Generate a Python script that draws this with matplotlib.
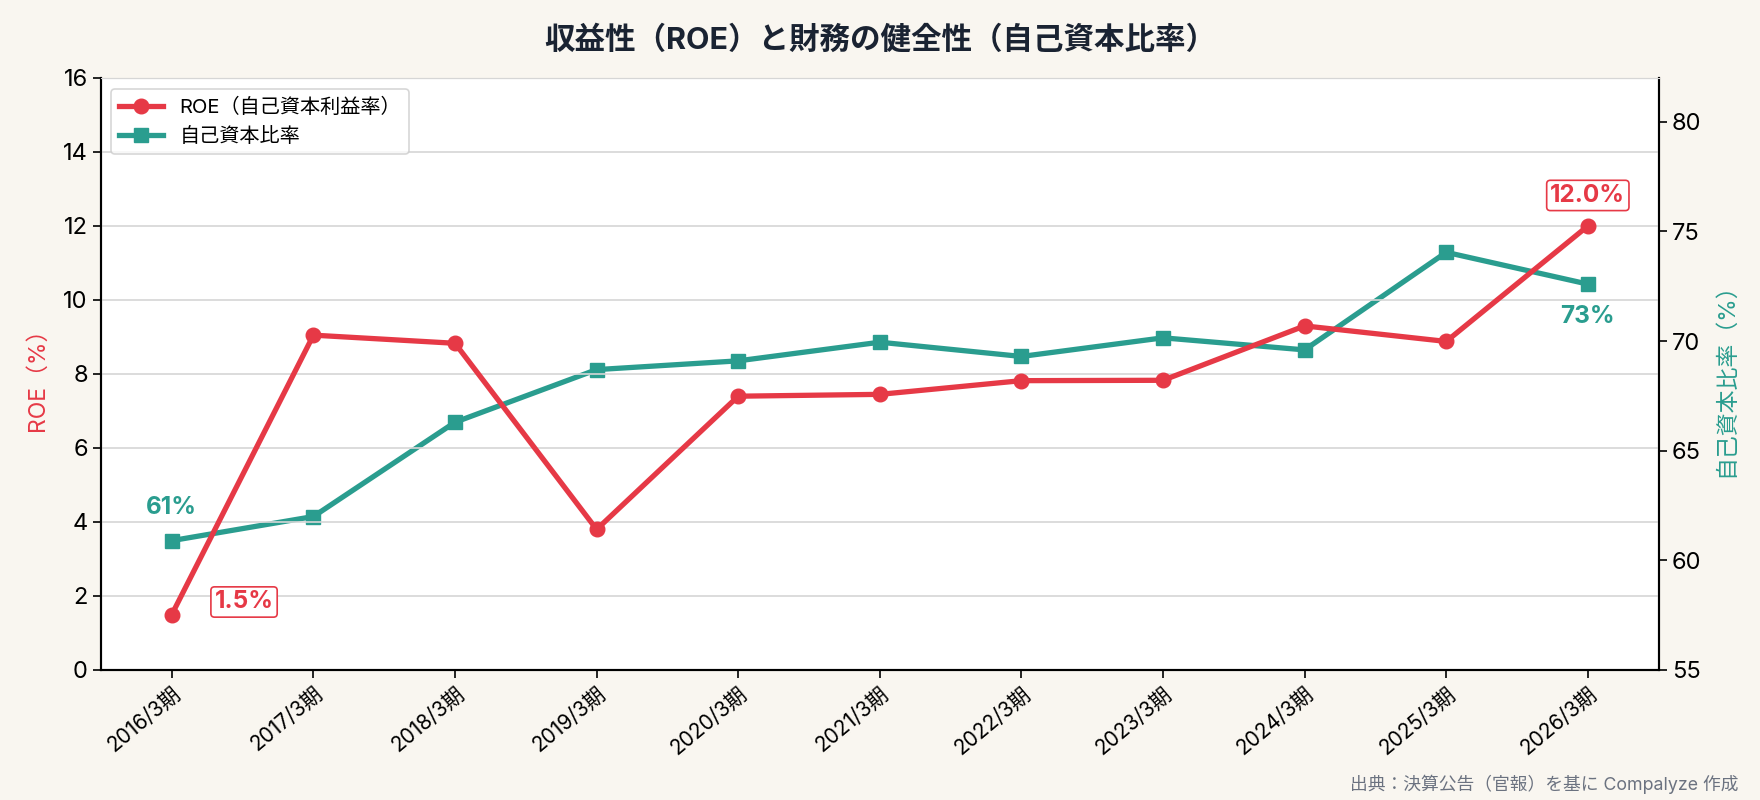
import matplotlib
matplotlib.use("Agg")
import matplotlib.pyplot as plt
from matplotlib.ticker import MultipleLocator

plt.rcParams['font.family'] = ['Inter', 'Noto Sans CJK JP', 'DejaVu Sans']

periods = ["2016/3期", "2017/3期", "2018/3期", "2019/3期", "2020/3期", "2021/3期",
           "2022/3期", "2023/3期", "2024/3期", "2025/3期", "2026/3期"]
roe = [1.5, 9.05, 8.83, 3.8, 7.4, 7.45, 7.82, 7.83, 9.3, 8.88, 12.0]
equity_ratio = [60.9, 62.0, 66.3, 68.7, 69.1, 69.95, 69.3, 70.15, 69.6, 74.05, 72.6]

RED = "#e63946"
TEAL = "#2a9d8f"
BG = "#f9f6f0"

fig = plt.figure(figsize=(17.6, 8.0), dpi=100, facecolor=BG)
ax = fig.add_axes([0.0574, 0.1625, 0.885, 0.74])
x = list(range(len(periods)))

ax2 = ax.twinx()
l2, = ax2.plot(x, equity_ratio, color=TEAL, lw=3.8, marker="s", ms=10, label="自己資本比率", zorder=3)
l1, = ax.plot(x, roe, color=RED, lw=3.8, marker="o", ms=10.5, label="ROE（自己資本利益率）", zorder=4)
ax.set_zorder(ax2.get_zorder() + 1)
ax.patch.set_visible(False)
ax2.set_facecolor("white")
ax2.patch.set_visible(True)

ax.set_ylim(0, 16)
ax.yaxis.set_major_locator(MultipleLocator(2))
ax2.set_ylim(55, 82)
ax2.yaxis.set_major_locator(MultipleLocator(5))
ax.set_xlim(-0.5, len(periods) - 0.5)

ax.grid(axis="y", color="#d6d6d6", lw=1.2)
ax.set_axisbelow(True)
ax.set_xticks(x)
ax.set_xticklabels(periods, rotation=40, ha="right", rotation_mode="anchor", fontsize=15)
ax.tick_params(axis="y", labelsize=17, length=6, width=1.2)
ax.tick_params(axis="x", length=6, width=1.2)
ax2.tick_params(axis="y", labelsize=17, length=6, width=1.2)

for a in (ax, ax2):
    a.spines["top"].set_color("#d6d6d6")
    a.spines["left"].set_linewidth(1.5)
    a.spines["right"].set_linewidth(1.5)
    a.spines["bottom"].set_linewidth(1.5)

ax.set_ylabel("ROE（%）", color=RED, fontsize=16.5, labelpad=10)
ax2.set_ylabel("自己資本比率（%）", color=TEAL, fontsize=16.5, labelpad=10)

fig.suptitle("収益性（ROE）と財務の健全性（自己資本比率）", fontsize=22, fontweight="bold",
             color="#1a2332", y=0.968)

# annotations
ax.annotate(f"{roe[0]:.1f}%", (x[0], roe[0]), xytext=(52, 9), textcoords="offset points",
            ha="center", va="center", fontsize=17.5, fontweight="bold", color=RED,
            bbox=dict(boxstyle="round,pad=0.15", fc="white", ec=RED, lw=1.2))
ax.annotate(f"{roe[-1]:.1f}%", (x[-1], roe[-1]), xytext=(0, 22), textcoords="offset points",
            ha="center", va="center", fontsize=17.5, fontweight="bold", color=RED,
            bbox=dict(boxstyle="round,pad=0.15", fc="white", ec=RED, lw=1.2))
ax2.annotate(f"{equity_ratio[0]:.0f}%", (x[0], equity_ratio[0]), xytext=(0, 24),
             textcoords="offset points", ha="center", va="center", fontsize=17.5,
             fontweight="bold", color=TEAL)
ax2.annotate(f"{equity_ratio[-1]:.0f}%", (x[-1], equity_ratio[-1]), xytext=(0, -23),
             textcoords="offset points", ha="center", va="center", fontsize=17.5,
             fontweight="bold", color=TEAL)

leg = ax.legend(handles=[l1, l2], loc="upper left", fontsize=14.5, frameon=True,
                bbox_to_anchor=(0.0, 0.998), borderaxespad=0.5, handlelength=2.2)
leg.get_frame().set_edgecolor("#cccccc")
leg.get_frame().set_linewidth(1.2)

fig.text(0.988, 0.008, "出典：決算公告（官報）を基に Compalyze 作成", ha="right", va="bottom",
         fontsize=12.8, color="#6b7280")

fig.savefig("out.png", dpi=100, facecolor=BG)
